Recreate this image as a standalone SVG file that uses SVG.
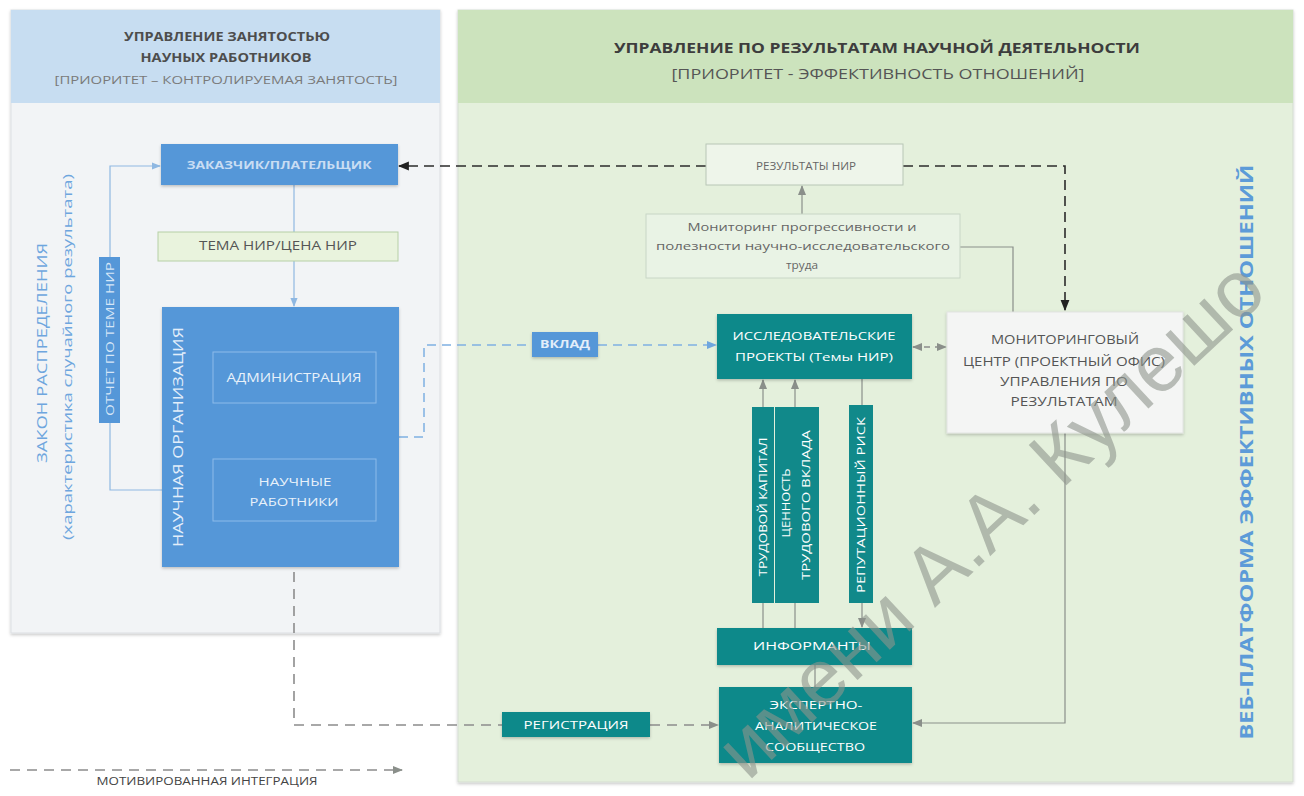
<svg xmlns="http://www.w3.org/2000/svg" width="1304" height="796" viewBox="0 0 1304 796">
<style>
.f{font-family:"Open Sans","Liberation Sans",sans-serif}
.c{text-anchor:middle}
.w{fill:#ffffff}
.teal{fill:#11898a}
.blue{fill:#5597d8}
.ln{fill:none;stroke:#8a8f8a;stroke-width:1.2}
.lb{fill:none;stroke:#8fb8e2;stroke-width:1.2}
.dk{fill:none;stroke:#2b2b2b;stroke-width:1.6;stroke-dasharray:10 6}
.dg{fill:none;stroke:#8c8c8c;stroke-width:1.6;stroke-dasharray:10 7}
.db{fill:none;stroke:#7fb0e2;stroke-width:1.5;stroke-dasharray:9 6}
</style>
<defs>
<marker id="mk" viewBox="0 0 10 10" refX="9" refY="5" markerWidth="11" markerHeight="11" markerUnits="userSpaceOnUse" orient="auto-start-reverse"><path d="M0,1 L10,5 L0,9 z" fill="#222"/></marker>
<marker id="mg" viewBox="0 0 10 10" refX="9" refY="5" markerWidth="10" markerHeight="10" markerUnits="userSpaceOnUse" orient="auto-start-reverse"><path d="M0,1 L10,5 L0,9 z" fill="#8a8f8a"/></marker>
<marker id="mb" viewBox="0 0 10 10" refX="9" refY="5" markerWidth="10" markerHeight="10" markerUnits="userSpaceOnUse" orient="auto-start-reverse"><path d="M0,1 L10,5 L0,9 z" fill="#6fa6de"/></marker>
<marker id="ml" viewBox="0 0 10 10" refX="9" refY="5" markerWidth="9" markerHeight="9" markerUnits="userSpaceOnUse" orient="auto-start-reverse"><path d="M0,1 L10,5 L0,9 z" fill="#8fb8e2"/></marker>
<filter id="sh" x="-10%" y="-10%" width="120%" height="130%"><feDropShadow dx="0" dy="1.5" stdDeviation="1.5" flood-color="#000" flood-opacity="0.22"/></filter>
</defs>
<rect x="0" y="0" width="1304" height="796" fill="#ffffff"/>

<g id="panel-left">
<rect x="11" y="10" width="429" height="623" fill="#f2f4f6" stroke="#dcdfe3" filter="url(#sh)"/>
<rect x="11" y="10" width="429" height="93" fill="#c7ddf1"/>
<text class="f c" x="227" y="41" font-size="12" font-weight="bold" fill="#4d4d4d" textLength="206" lengthAdjust="spacingAndGlyphs">УПРАВЛЕНИЕ ЗАНЯТОСТЬЮ</text>
<text class="f c" x="226" y="62" font-size="12" font-weight="bold" fill="#4d4d4d" textLength="171" lengthAdjust="spacingAndGlyphs">НАУНЫХ РАБОТНИКОВ</text>
<text class="f c" x="226" y="84" font-size="10.5" fill="#7a7a7a" textLength="343" lengthAdjust="spacingAndGlyphs">[ПРИОРИТЕТ – КОНТРОЛИРУЕМАЯ ЗАНЯТОСТЬ]</text>
<text class="f c" transform="translate(47,353) rotate(-90)" font-size="15" fill="#6ea6de" textLength="220" lengthAdjust="spacingAndGlyphs">ЗАКОН РАСПРЕДЕЛЕНИЯ</text>
<text class="f c" transform="translate(72,357) rotate(-90)" font-size="13" fill="#6ea6de" textLength="366" lengthAdjust="spacingAndGlyphs">(характеристика случайного результата)</text>
</g>

<g id="panel-right">
<rect x="458" y="10" width="835" height="772" fill="#e4f0dc" stroke="#d6ddd3" filter="url(#sh)"/>
<rect x="458" y="10" width="835" height="93" fill="#cce3bd"/>
<text class="f c" x="877" y="53" font-size="15" font-weight="bold" fill="#3d3d3d" textLength="526" lengthAdjust="spacingAndGlyphs">УПРАВЛЕНИЕ ПО РЕЗУЛЬТАТАМ НАУЧНОЙ ДЕЯТЕЛЬНОСТИ</text>
<text class="f c" x="878" y="79" font-size="14" fill="#555" textLength="413" lengthAdjust="spacingAndGlyphs">[ПРИОРИТЕТ - ЭФФЕКТИВНОСТЬ ОТНОШЕНИЙ]</text>
<text class="f c" transform="translate(1253,452) rotate(-90)" font-size="17" font-weight="bold" fill="#5c9bd8" textLength="575" lengthAdjust="spacingAndGlyphs">ВЕБ-ПЛАТФОРМА ЭФФЕКТИВНЫХ ОТНОШЕНИЙ</text>
</g>

<g id="connectors">
<path class="dk" d="M706,166 H399" marker-end="url(#mk)"/>
<path class="dk" d="M903,166 H1065 V310" marker-end="url(#mk)"/>
<path class="ln" d="M802,214 V186" marker-end="url(#mg)"/>
<path class="ln" d="M960,247 H1013 V312"/>
<path class="dg" style="stroke-dasharray:6 5;stroke-width:1.4" d="M913,347 H946" marker-start="url(#mg)" marker-end="url(#mg)"/>
<path class="db" d="M399,437 H424 V345 H532"/>
<path class="db" d="M598,345 H716" marker-end="url(#mb)"/>
<path class="ln" d="M763,407 V380" marker-end="url(#mg)"/>
<path class="ln" d="M795,407 V380" marker-end="url(#mg)"/>
<path class="ln" d="M763,603 V628"/>
<path class="ln" d="M795,603 V628"/>
<path class="ln" d="M862,379 V405"/>
<path class="ln" d="M862,603 V627" marker-end="url(#mg)"/>
<path class="ln" d="M815,665 V687"/>
<path class="ln" d="M1065,433 V723 H913" marker-end="url(#mg)"/>
<path class="dg" d="M294,521 V725 H502"/>
<path class="dg" d="M650,725 H718" marker-end="url(#mg)"/>
<path class="lb" d="M294,185 V232"/>
<path class="lb" d="M294,261 V306" marker-end="url(#ml)"/>
<path class="lb" d="M294,403 V458" marker-end="url(#ml)"/>
<path class="lb" d="M110,257 V166 H160" marker-end="url(#ml)"/>
<path class="lb" d="M110,423 V490 H162"/>
<path class="dg" d="M10,770 H402" marker-end="url(#mg)"/>
</g>

<g id="legend">
<text class="f c" x="207" y="785" font-size="10.5" fill="#444" textLength="221" lengthAdjust="spacingAndGlyphs">МОТИВИРОВАННАЯ ИНТЕГРАЦИЯ</text>
</g>

<g id="n-zakazchik">
<rect class="blue" x="161" y="144" width="237" height="41" filter="url(#sh)"/>
<text class="f c" x="279" y="169" font-size="11" font-weight="bold" fill="#c9ddf3" textLength="185" lengthAdjust="spacingAndGlyphs">ЗАКАЗЧИК/ПЛАТЕЛЬЩИК</text>
</g>

<g id="n-tema">
<rect x="158" y="232" width="240" height="29" fill="#e9f3dd" stroke="#b6cfa6"/>
<text class="f c" x="278" y="250" font-size="12" fill="#555" textLength="158" lengthAdjust="spacingAndGlyphs">ТЕМА НИР/ЦЕНА НИР</text>
</g>

<g id="n-otchet">
<rect class="blue" x="99" y="257" width="21" height="166"/>
<text class="f c" transform="translate(114,339) rotate(-90)" font-size="10.5" fill="#d6e6f7" textLength="154" lengthAdjust="spacingAndGlyphs">ОТЧЕТ ПО ТЕМЕ НИР</text>
</g>

<g id="n-org">
<rect class="blue" x="162" y="307" width="237" height="260" filter="url(#sh)"/>
<text class="f c" transform="translate(183,437) rotate(-90)" font-size="15" fill="#e3eefa" textLength="220" lengthAdjust="spacingAndGlyphs">НАУЧНАЯ ОРГАНИЗАЦИЯ</text>
</g>

<g id="n-admin">
<rect x="213" y="352" width="163" height="51" fill="none" stroke="#8dbbea" stroke-width="1"/>
<text class="f c" x="294" y="382" font-size="12" fill="#e8f1fa" textLength="135" lengthAdjust="spacingAndGlyphs">АДМИНИСТРАЦИЯ</text>
</g>

<g id="n-rabotniki">
<rect x="213" y="459" width="163" height="62" fill="none" stroke="#8dbbea" stroke-width="1"/>
<text class="f c" x="295" y="486" font-size="11" fill="#e8f1fa" textLength="73" lengthAdjust="spacingAndGlyphs">НАУЧНЫЕ</text>
<text class="f c" x="294" y="506" font-size="11" fill="#e8f1fa" textLength="89" lengthAdjust="spacingAndGlyphs">РАБОТНИКИ</text>
</g>

<g id="n-rezultaty">
<rect x="706" y="144" width="197" height="41" fill="#eef5ea" stroke="#b8c6b6"/>
<text class="f c" x="806" y="170" font-size="11" fill="#666" textLength="100" lengthAdjust="spacingAndGlyphs">РЕЗУЛЬТАТЫ НИР</text>
</g>

<g id="n-monitoring">
<rect x="646" y="214" width="314" height="64" fill="#e9f3e5" stroke="#c8d6c6"/>
<text class="f c" x="802" y="231" font-size="10.5" fill="#666" textLength="229" lengthAdjust="spacingAndGlyphs">Мониторинг прогрессивности и</text>
<text class="f c" x="803" y="250" font-size="10.5" fill="#666" textLength="294" lengthAdjust="spacingAndGlyphs">полезности научно-исследовательского</text>
<text class="f c" x="802" y="269" font-size="10.5" fill="#666" textLength="32" lengthAdjust="spacingAndGlyphs">труда</text>
</g>

<g id="n-center">
<rect x="947" y="312" width="236" height="121" fill="#f4f5f4" stroke="#e2e4e2" filter="url(#sh)"/>
<text class="f c" x="1065" y="344" font-size="12" fill="#555" textLength="148" lengthAdjust="spacingAndGlyphs">МОНИТОРИНГОВЫЙ</text>
<text class="f c" x="1064" y="366" font-size="12" fill="#555" textLength="202" lengthAdjust="spacingAndGlyphs">ЦЕНТР (ПРОЕКТНЫЙ ОФИС)</text>
<text class="f c" x="1064" y="386" font-size="12" fill="#555" textLength="128" lengthAdjust="spacingAndGlyphs">УПРАВЛЕНИЯ ПО</text>
<text class="f c" x="1064" y="406" font-size="12" fill="#555" textLength="107" lengthAdjust="spacingAndGlyphs">РЕЗУЛЬТАТАМ</text>
</g>

<g id="n-proekty">
<rect class="teal" x="717" y="314" width="195" height="65" filter="url(#sh)"/>
<text class="f c w" x="814" y="340" font-size="11.5" textLength="163" lengthAdjust="spacingAndGlyphs">ИССЛЕДОВАТЕЛЬСКИЕ</text>
<text class="f c w" x="814" y="361" font-size="11.5" textLength="158" lengthAdjust="spacingAndGlyphs">ПРОЕКТЫ (Темы НИР)</text>
</g>

<g id="n-vklad">
<rect class="blue" x="532" y="332" width="66" height="25" filter="url(#sh)"/>
<text class="f c" x="565" y="348" font-size="11" font-weight="bold" fill="#e3eefa" textLength="50" lengthAdjust="spacingAndGlyphs">ВКЛАД</text>
</g>

<g id="n-kapital">
<rect class="teal" x="752" y="407" width="22" height="196"/>
<text class="f c w" transform="translate(767,507) rotate(-90)" font-size="10" textLength="139" lengthAdjust="spacingAndGlyphs">ТРУДОВОЙ КАПИТАЛ</text>
</g>

<g id="n-cennost">
<rect class="teal" x="775" y="407" width="44" height="196"/>
<text class="f c w" transform="translate(790,503) rotate(-90)" font-size="10.5" textLength="69" lengthAdjust="spacingAndGlyphs">ЦЕННОСТЬ</text>
<text class="f c w" transform="translate(810,505) rotate(-90)" font-size="10.5" textLength="150" lengthAdjust="spacingAndGlyphs">ТРУДОВОГО ВКЛАДА</text>
</g>

<g id="n-risk">
<rect class="teal" x="849" y="405" width="24" height="198"/>
<text class="f c w" transform="translate(865,505) rotate(-90)" font-size="10.5" textLength="176" lengthAdjust="spacingAndGlyphs">РЕПУТАЦИОННЫЙ РИСК</text>
</g>

<g id="n-informanty">
<rect class="teal" x="717" y="628" width="195" height="37" filter="url(#sh)"/>
<text class="f c w" x="812" y="650" font-size="11" textLength="118" lengthAdjust="spacingAndGlyphs">ИНФОРМАНТЫ</text>
</g>

<g id="n-ekspert">
<rect class="teal" x="719" y="687" width="193" height="76" filter="url(#sh)"/>
<text class="f c w" x="816" y="709" font-size="11" textLength="93" lengthAdjust="spacingAndGlyphs">ЭКСПЕРТНО-</text>
<text class="f c w" x="816" y="730" font-size="11" textLength="122" lengthAdjust="spacingAndGlyphs">АНАЛИТИЧЕСКОЕ</text>
<text class="f c w" x="815" y="751" font-size="11" textLength="100" lengthAdjust="spacingAndGlyphs">СООБЩЕСТВО</text>
</g>

<g id="n-registracia">
<rect class="teal" x="502" y="712" width="148" height="25" filter="url(#sh)"/>
<text class="f c w" x="576" y="729" font-size="11" textLength="105" lengthAdjust="spacingAndGlyphs">РЕГИСТРАЦИЯ</text>
</g>

<g id="watermark">
<text transform="translate(748,782) rotate(-43)" font-family="'Liberation Sans',sans-serif" font-size="80" fill="#8e948c" fill-opacity="0.6">имени А.А. Кулешо</text>
</g>
</svg>
